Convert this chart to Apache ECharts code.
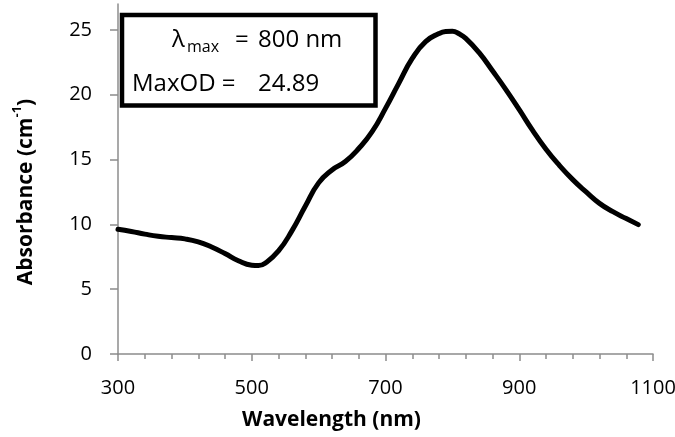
<!DOCTYPE html>
<html>
<head>
<meta charset="utf-8">
<script src="https://cdn.jsdelivr.net/npm/echarts@6/dist/echarts.min.js"></script>
<style>
html,body{margin:0;padding:0;background:#fff;}
#chart{width:675px;height:437px;}
</style>
</head>
<body>
<div id="chart"></div>
<script>
// Data
const wavelengths = [300,320,340,360,380,400,420,440,460,480,500,510,520,540,560,580,600,620,640,660,680,700,720,740,760,780,790,800,810,820,840,860,880,900,920,940,960,980,1000,1020,1040,1060,1078];
const absorbance  = [9.62,9.45,9.25,9.08,8.98,8.88,8.65,8.25,7.75,7.2,6.85,6.82,7.0,7.95,9.5,11.4,13.2,14.2,14.85,15.85,17.15,18.95,20.9,22.8,24.1,24.72,24.87,24.89,24.7,24.35,23.25,21.85,20.4,18.85,17.25,15.8,14.55,13.45,12.5,11.62,10.98,10.45,9.98];
const xMajorTicks = [300,500,700,900,1100];
const xMinorTicks = [300,340,380,420,460,500,540,580,620,660,700,740,780,820,860,900,940,980,1020,1060,1100];
const yTicks = [0,5,10,15,20,25];
const xTitle = 'Wavelength (nm)';
const yTitleMain = 'Absorbance (cm';
const yTitleSup = '-1';
const boxLambda = 'λ';
const boxLambdaSub = 'max';
const boxLambdaValue = '800 nm';
const boxMaxLabel = 'MaxOD =';
const boxMaxValue = '24.89';

const FONT = '"Open Sans", "Noto Sans", sans-serif';
const AXIS_COLOR = '#8c8c8c';

const chart = echarts.init(document.getElementById('chart'));
const seriesData = wavelengths.map((w, i) => [w, absorbance[i]]);

chart.setOption({
  animation: false,
  backgroundColor: '#fff',
  grid: {left: 118, right: 22, top: 4, bottom: 83, containLabel: false, outerBoundsMode: 'none'},
  xAxis: [{
    type: 'value', min: 300, max: 1100, position: 'bottom',
    splitLine: {show: false},
    axisLine: {show: true, onZero: false, lineStyle: {color: AXIS_COLOR, width: 1.5}},
    axisTick: {show: true, inside: false, length: 7, customValues: xMajorTicks, lineStyle: {color: AXIS_COLOR, width: 1.5}},
    axisLabel: {show: true, customValues: xMajorTicks, margin: 24, fontFamily: FONT, fontSize: 20, color: '#000',
      formatter: v => String(v)},
    name: xTitle, nameLocation: 'middle', nameGap: 56,
    nameTextStyle: {fontFamily: FONT, fontSize: 21, fontWeight: 'bold', color: '#000', padding: [0, 108, 0, 0]}
  }, {
    type: 'value', min: 300, max: 1100, position: 'bottom',
    splitLine: {show: false},
    axisLine: {show: false, onZero: false},
    axisTick: {show: true, inside: false, length: 5, customValues: xMinorTicks, lineStyle: {color: AXIS_COLOR, width: 1.5}},
    axisLabel: {show: false}
  }],
  yAxis: {
    type: 'value', min: 0, max: 27,
    splitLine: {show: false},
    axisLine: {show: true, lineStyle: {color: AXIS_COLOR, width: 1.5}},
    axisTick: {show: true, inside: false, length: 8, customValues: yTicks, lineStyle: {color: AXIS_COLOR, width: 1.5}},
    axisLabel: {show: true, customValues: yTicks, margin: 26, fontFamily: FONT, fontSize: 20, color: '#000',
      formatter: v => String(v)},
    name: '{a|' + yTitleMain + '}{s|' + yTitleSup + '}{a|)}',
    nameLocation: 'middle', nameRotate: 90, nameGap: 81,
    nameTextStyle: {
      padding: [0, 26, 0, 0],
      rich: {
        a: {fontFamily: FONT, fontSize: 21, fontWeight: 'bold', color: '#000', lineHeight: 26, verticalAlign: 'bottom'},
        s: {fontFamily: FONT, fontSize: 13, fontWeight: 'bold', color: '#000', lineHeight: 26, verticalAlign: 'top'}
      }
    }
  },
  series: [{
    type: 'line', xAxisIndex: 0, yAxisIndex: 0,
    data: seriesData, showSymbol: false, smooth: 0.5,
    lineStyle: {color: '#000', width: 5, cap: 'round', join: 'round'},
    z: 3
  }],
  graphic: [
    {type: 'rect', z: 10, shape: {x: 122, y: 15, width: 253.5, height: 90.5},
     style: {fill: '#fff', stroke: '#000', lineWidth: 4.5}},
    {type: 'text', z: 11, x: 172, y: 40, style: {text: boxLambda, font: '24px ' + FONT, fill: '#000', verticalAlign: 'middle'}},
    {type: 'text', z: 11, x: 187, y: 47, style: {text: boxLambdaSub, font: '16px ' + FONT, fill: '#000', verticalAlign: 'middle'}},
    {type: 'text', z: 11, x: 235, y: 40, style: {text: '=', font: '24px ' + FONT, fill: '#000', verticalAlign: 'middle'}},
    {type: 'text', z: 11, x: 258, y: 40, style: {text: boxLambdaValue, font: '24px ' + FONT, fill: '#000', verticalAlign: 'middle'}},
    {type: 'text', z: 11, x: 132, y: 84, style: {text: boxMaxLabel, font: '24px ' + FONT, fill: '#000', verticalAlign: 'middle'}},
    {type: 'text', z: 11, x: 258, y: 84, style: {text: boxMaxValue, font: '24px ' + FONT, fill: '#000', verticalAlign: 'middle'}}
  ]
});
</script>
</body>
</html>
